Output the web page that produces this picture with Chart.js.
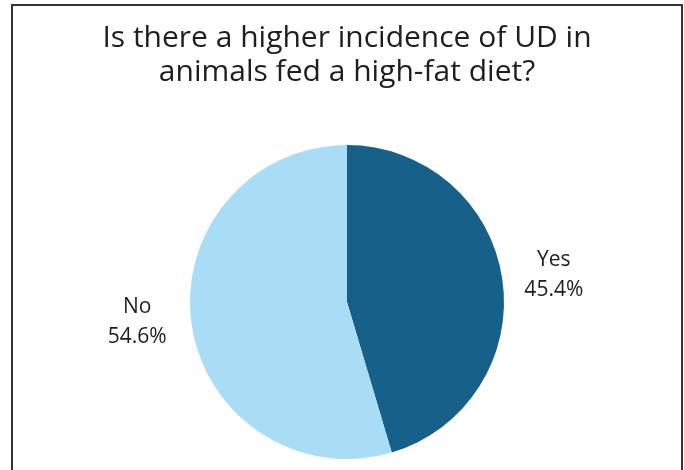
<!DOCTYPE html>
<html>
<head>
<meta charset="utf-8">
<script src="https://cdn.jsdelivr.net/npm/chart.js@4"></script>
<style>
    body { margin: 0; background: #fff; }
    #wrap { width: 684px; height: 470px; }
</style>
</head>
<body>
<div id="wrap"><canvas id="udPie"></canvas></div>
<script>
// ==========================================
// DATA
// ==========================================
const titleLines = ['Is there a higher incidence of UD in', 'animals fed a high-fat diet?'];
const sliceLabels = ['Yes', 'No'];
const sliceValues = [45.4, 54.6];
const sliceColors = ['#17608a', '#a9ddf5'];

// frame line around the figure (open at the bottom)
const framePlugin = {
    id: 'frame',
    beforeDraw(chart) {
        const c = chart.ctx;
        c.save();
        c.strokeStyle = '#333';
        c.lineWidth = 2;
        c.beginPath();
        c.moveTo(12, 475);
        c.lineTo(12, 5);
        c.lineTo(682, 5);
        c.lineTo(682, 475);
        c.stroke();
        c.restore();
    }
};

// label + percent outside each slice, along its mid angle
const outerLabels = {
    id: 'outerLabels',
    afterDatasetsDraw(chart) {
        const c = chart.ctx;
        const meta = chart.getDatasetMeta(0);
        c.save();
        c.fillStyle = '#1e1e1e';
        c.font = '21px "Open Sans"';
        c.textAlign = 'center';
        c.textBaseline = 'middle';
        meta.data.forEach((arc, i) => {
            const p = arc.getProps(['x', 'y', 'startAngle', 'endAngle', 'outerRadius'], true);
            const mid = (p.startAngle + p.endAngle) / 2;
            const r = p.outerRadius + 52;
            const x = p.x + Math.cos(mid) * r;
            // left-side label sits a little higher than the plain mid angle
            const y = p.y + Math.sin(mid) * r + (Math.cos(mid) < 0 ? -10 : 3);
            c.fillText(sliceLabels[i], x - (Math.cos(mid) < 0 ? 3 : 0), y - 15);
            c.fillText(sliceValues[i].toFixed(1) + '%', x - (Math.cos(mid) < 0 ? 3 : 0), y + 15);
        });
        c.restore();
    }
};

new Chart(document.getElementById('udPie'), {
    type: 'pie',
    data: {
        labels: sliceLabels,
        datasets: [{ data: sliceValues, backgroundColor: sliceColors, borderWidth: 0 }]
    },
    options: {
        responsive: true,
        maintainAspectRatio: false,
        animation: false,
        layout: { padding: { left: 10, right: 0, top: 0, bottom: 11 } },
        plugins: {
            legend: { display: false },
            tooltip: { enabled: false },
            title: {
                display: true,
                text: titleLines,
                color: '#1e1e1e',
                font: { family: '"Open Sans"', size: 30, weight: 'normal', lineHeight: 34 / 30 },
                padding: { top: 21, bottom: 56 }
            }
        }
    },
    plugins: [framePlugin, outerLabels]
});
</script>
</body>
</html>
